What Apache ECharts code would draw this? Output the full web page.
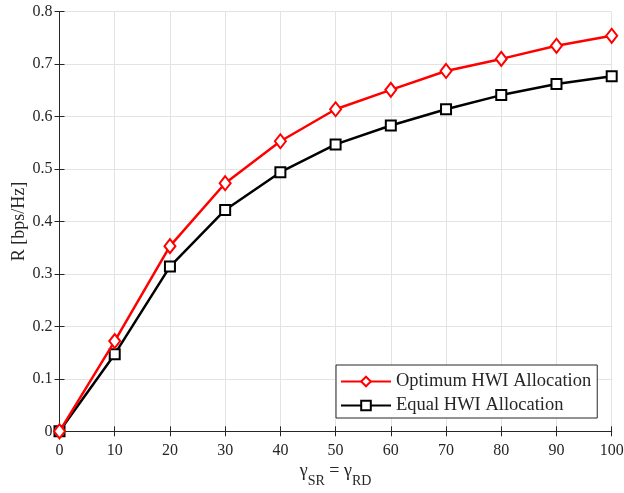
<!DOCTYPE html>
<html>
<head>
<meta charset="utf-8">
<script src="https://cdn.jsdelivr.net/npm/echarts@6/dist/echarts.min.js"></script>
<style>html,body{margin:0;padding:0;background:#fff}#c{width:624px;height:493px}</style>
</head>
<body>
<div id="c"></div>
<script>
var xValues = [0, 10, 20, 30, 40, 50, 60, 70, 80, 90, 100];
var optimumR = [0, 0.172, 0.353, 0.473, 0.553, 0.614, 0.651, 0.687, 0.710, 0.735, 0.754];
var equalR = [0, 0.147, 0.314, 0.422, 0.494, 0.547, 0.583, 0.614, 0.641, 0.662, 0.677];
var seriesNames = ['Optimum HWI Allocation', 'Equal HWI Allocation'];

var font = 'Liberation Serif';
var chart = echarts.init(document.getElementById('c'));
function pairs(ys){ return xValues.map(function(x,i){ return [x, ys[i]]; }); }
var axisLineStyle = {color: '#262626', width: 1};
var tickStyle = {inside: true, length: 5, lineStyle: axisLineStyle};
chart.setOption({
  animation: false,
  backgroundColor: '#fff',
  grid: {left: 59.5, right: 12.3, top: 11.7, bottom: 61.7, containLabel: false, outerBoundsMode: 'none'},
  legend: {
    orient: 'vertical', left: 336, top: 365,
    backgroundColor: '#fff', borderColor: '#262626', borderWidth: 1,
    padding: [7, 6, 3, 4], itemWidth: 50, itemHeight: 12, itemGap: 5,
    textStyle: {fontFamily: font, fontSize: 18.5, color: '#262626'},
    data: seriesNames
  },
  xAxis: [{
    type: 'value', min: 0, max: 100, interval: 10,
    name: '{g|γ}{s|SR}{g| = γ}{s|RD}', nameLocation: 'middle', nameGap: 31, nameMoveOverlap: false,
    nameTextStyle: {rich: {
      g: {fontFamily: font, fontSize: 18, color: '#262626', lineHeight: 26, verticalAlign: 'top'},
      s: {fontFamily: font, fontSize: 14, color: '#262626', lineHeight: 26, verticalAlign: 'bottom'}
    }},
    axisLine: {lineStyle: axisLineStyle},
    axisTick: tickStyle,
    axisLabel: {fontFamily: font, fontSize: 16, color: '#262626', margin: 11},
    splitLine: {show: true, lineStyle: {color: '#e3e3e3', width: 1}}
  }, {
    type: 'value', min: 0, max: 100, interval: 10, position: 'top',
    axisLine: {show: true, lineStyle: axisLineStyle},
    axisTick: tickStyle,
    axisLabel: {show: false}, splitLine: {show: false}
  }],
  yAxis: [{
    type: 'value', min: 0, max: 0.8, interval: 0.1,
    name: 'R [bps/Hz]', nameLocation: 'middle', nameGap: 31, nameMoveOverlap: false,
    nameTextStyle: {fontFamily: font, fontSize: 18, color: '#262626'},
    axisLine: {show: true, lineStyle: axisLineStyle},
    axisTick: {show: true, inside: true, length: 5, lineStyle: axisLineStyle},
    axisLabel: {fontFamily: font, fontSize: 16, color: '#262626', margin: 7,
      formatter: function(v){ return v === 0 ? '0' : v.toFixed(1); }},
    splitLine: {show: true, lineStyle: {color: '#e3e3e3', width: 1}}
  }, {
    type: 'value', min: 0, max: 0.8, interval: 0.1, position: 'right',
    axisLine: {show: true, lineStyle: axisLineStyle},
    axisTick: {show: true, inside: true, length: 5, lineStyle: axisLineStyle},
    axisLabel: {show: false}, splitLine: {show: false}
  }],
  series: [{
    name: seriesNames[0], type: 'line', data: pairs(optimumR),
    symbol: 'diamond', symbolSize: [11, 14], showAllSymbol: true,
    lineStyle: {color: '#ff0000', width: 2.5},
    itemStyle: {color: '#fff', borderColor: '#ff0000', borderWidth: 2},
    z: 3
  }, {
    name: seriesNames[1], type: 'line', data: pairs(equalR),
    symbol: 'rect', symbolSize: 10, showAllSymbol: true,
    lineStyle: {color: '#000', width: 2.5},
    itemStyle: {color: '#fff', borderColor: '#000', borderWidth: 2},
    z: 2
  }]
});
</script>
</body>
</html>
